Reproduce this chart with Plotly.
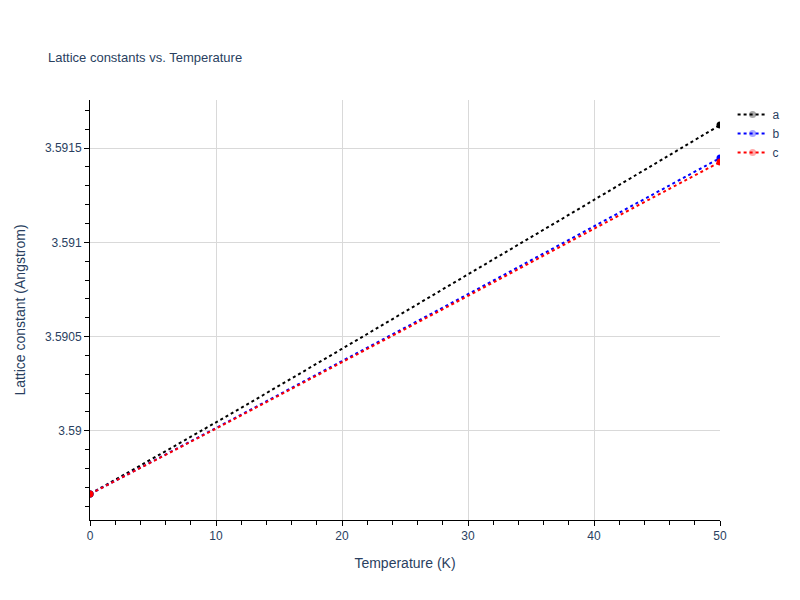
import plotly.graph_objects as go

temps = [0, 10, 20, 30, 40, 50]
a_vals = [3.589665, 3.590045, 3.590435, 3.590830, 3.591225, 3.591622]
b_vals = [3.589665, 3.590015, 3.590370, 3.590725, 3.591085, 3.591447]
c_vals = [3.589665, 3.590012, 3.590364, 3.590716, 3.591072, 3.591426]

fig = go.Figure()
opac = [1, 0, 0, 0, 0, 1]
for name, vals, col in [("a", a_vals, "black"), ("b", b_vals, "blue"), ("c", c_vals, "red")]:
    fig.add_trace(go.Scatter(x=temps, y=vals, name=name, mode="lines+markers",
                             line=dict(color=col, dash="dot", width=2, shape="spline"),
                             marker=dict(color=col, size=7, opacity=opac)))
axis_common = dict(showline=True, linecolor="black", ticks="outside", tickcolor="black",
                   showgrid=True, gridcolor="#d9d9d9", zeroline=False,
                   minor=dict(ticks="outside", tickcolor="black", ticklen=4))
fig.update_layout(
    template="plotly_white", width=800, height=600,
    font=dict(family="Liberation Sans, Arial, sans-serif"),
    title=dict(text="Lattice constants vs. Temperature", x=0.05, y=0.925, font=dict(size=13)),
    margin=dict(l=80, r=88, t=92, b=88),
    xaxis=dict(title="Temperature (K)", range=[0, 50], dtick=10, **axis_common),
    yaxis=dict(title="Lattice constant (Angstrom)", range=[3.589527, 3.591755], dtick=0.0005,
               **axis_common),
    legend=dict(x=1.02, y=1, yanchor="top"),
)
fig.write_html("out.html")
